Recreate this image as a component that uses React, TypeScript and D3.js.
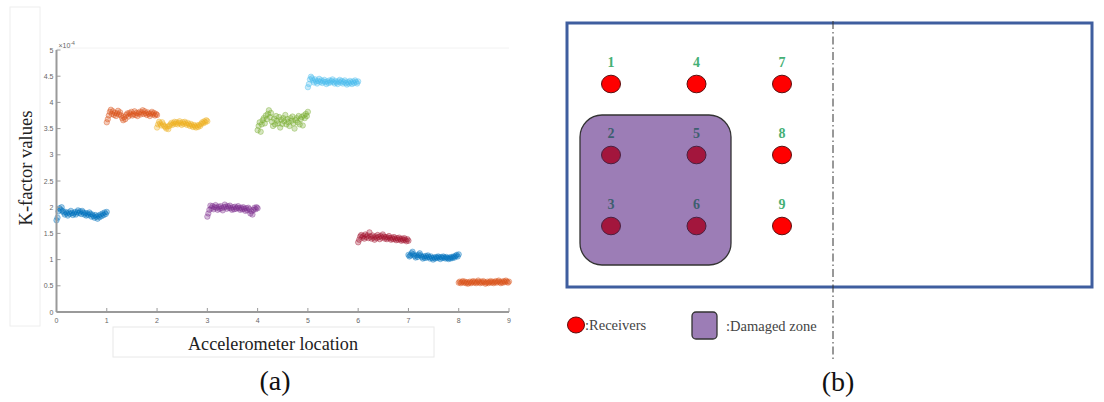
import React from "react";
import * as d3 from "d3";

// K-factor values (×10^-4) per accelerometer location (samples across each unit interval)
const loc1 = [1.75,1.80,1.92,1.98,1.95,2.00,1.93,1.90,1.86,1.91,1.88,1.84,1.90,1.87,1.93,1.89,1.85,1.88,1.91,1.86,1.90,1.94,1.89,1.92,1.87,1.93,1.90,1.86,1.89,1.84,1.88,1.85,1.90,1.87,1.82,1.86,1.83,1.80,1.85,1.82,1.78,1.84,1.81,1.86,1.83,1.88,1.85,1.90,1.87,1.91];
const loc2 = [3.62,3.68,3.75,3.82,3.86,3.78,3.83,3.76,3.80,3.74,3.79,3.84,3.77,3.81,3.75,3.70,3.66,3.72,3.68,3.76,3.79,3.73,3.80,3.77,3.82,3.75,3.78,3.83,3.76,3.80,3.74,3.79,3.82,3.77,3.81,3.85,3.78,3.83,3.79,3.76,3.81,3.78,3.74,3.79,3.82,3.77,3.80,3.75,3.78,3.76];
const loc3 = [3.52,3.58,3.63,3.60,3.56,3.62,3.58,3.55,3.53,3.50,3.54,3.49,3.55,3.58,3.61,3.57,3.60,3.63,3.59,3.62,3.58,3.61,3.64,3.60,3.57,3.62,3.59,3.63,3.60,3.57,3.61,3.58,3.55,3.59,3.56,3.53,3.57,3.54,3.52,3.56,3.53,3.57,3.55,3.59,3.62,3.60,3.64,3.62,3.66,3.64];
const loc4 = [1.82,1.88,1.95,2.03,1.98,2.02,1.96,2.00,2.04,1.99,1.95,2.01,1.97,2.02,1.98,1.94,2.00,2.05,2.01,1.97,2.02,1.99,2.03,1.98,1.95,2.00,1.96,2.01,1.97,1.99,2.02,1.98,1.95,1.99,1.96,2.00,1.97,1.93,1.98,1.94,1.99,1.96,1.88,1.92,1.86,1.95,1.99,1.96,2.00,1.98];
const loc5 = [3.47,3.55,3.62,3.44,3.58,3.66,3.70,3.60,3.75,3.68,3.78,3.85,3.72,3.80,3.63,3.55,3.69,3.58,3.74,3.65,3.60,3.72,3.52,3.67,3.59,3.70,3.64,3.76,3.58,3.68,3.62,3.55,3.70,3.65,3.73,3.60,3.50,3.66,3.70,3.62,3.74,3.58,3.68,3.72,3.56,3.75,3.70,3.78,3.74,3.82];
const loc6 = [4.29,4.35,4.44,4.49,4.46,4.42,4.38,4.44,4.40,4.36,4.41,4.45,4.39,4.42,4.37,4.40,4.43,4.39,4.35,4.40,4.37,4.42,4.38,4.41,4.44,4.39,4.36,4.41,4.38,4.35,4.40,4.43,4.38,4.41,4.36,4.39,4.42,4.37,4.34,4.39,4.36,4.41,4.38,4.35,4.40,4.37,4.42,4.39,4.36,4.40];
const loc7 = [1.33,1.38,1.44,1.47,1.42,1.45,1.40,1.48,1.43,1.46,1.41,1.52,1.44,1.40,1.46,1.42,1.38,1.44,1.41,1.47,1.43,1.39,1.45,1.42,1.48,1.44,1.40,1.43,1.39,1.42,1.45,1.41,1.38,1.42,1.39,1.43,1.40,1.37,1.41,1.38,1.42,1.39,1.36,1.40,1.37,1.41,1.38,1.35,1.39,1.36];
const loc8 = [1.09,1.06,1.08,1.12,1.15,1.10,1.07,1.04,1.08,1.05,1.09,1.12,1.08,1.05,1.02,1.06,1.03,1.07,1.04,1.08,1.05,1.02,1.06,1.03,1.00,1.04,1.02,1.05,1.03,1.06,1.04,1.01,1.05,1.03,1.06,1.04,1.02,1.05,1.03,1.01,1.04,1.02,1.05,1.03,1.06,1.04,1.07,1.09,1.06,1.10];
const loc9 = [0.56,0.58,0.55,0.57,0.59,0.56,0.58,0.55,0.57,0.54,0.56,0.58,0.55,0.57,0.59,0.56,0.58,0.55,0.57,0.60,0.57,0.55,0.58,0.56,0.59,0.57,0.54,0.56,0.58,0.55,0.57,0.59,0.56,0.58,0.55,0.57,0.59,0.56,0.58,0.60,0.57,0.55,0.58,0.56,0.59,0.57,0.60,0.58,0.56,0.58];

const series = [loc1, loc2, loc3, loc4, loc5, loc6, loc7, loc8, loc9];
const seriesColors = ["#0072BD","#D95319","#EDB120","#7E2F8E","#77AC30","#4DBEEE","#A2142F","#0072BD","#D95319"];

const xTicks = [0,1,2,3,4,5,6,7,8,9];
const yTicks = [0,0.5,1,1.5,2,2.5,3,3.5,4,4.5,5];

// Diagram (b): receiver grid
const receivers = [
  { id: "1", col: 0, row: 0, damaged: false },
  { id: "2", col: 0, row: 1, damaged: true },
  { id: "3", col: 0, row: 2, damaged: true },
  { id: "4", col: 1, row: 0, damaged: false },
  { id: "5", col: 1, row: 1, damaged: true },
  { id: "6", col: 1, row: 2, damaged: true },
  { id: "7", col: 2, row: 0, damaged: false },
  { id: "8", col: 2, row: 1, damaged: false },
  { id: "9", col: 2, row: 2, damaged: false },
];

export default function App() {
  const x = d3.scaleLinear().domain([0, 9]).range([56.5, 509]);
  const y = d3.scaleLinear().domain([0, 5]).range([312, 50]);
  const gx = d3.scaleLinear().domain([0, 2]).range([611, 782]);
  const gy = d3.scaleLinear().domain([0, 2]).range([84, 226]);
  const axisColor = "#9a9a9a";
  const tickFont = "Helvetica, Arial, 'Liberation Sans', sans-serif";
  const serif = "'Liberation Serif', 'Times New Roman', serif";

  return (
    <svg width={1104} height={402} style={{ position: "absolute", left: 0, top: 0, background: "#fff" }}>
      {/* faint boxes */}
      <rect x={10} y={7} width={30} height={319} fill="none" stroke="#eeeeee" strokeWidth={1} />
      <line x1={57} x2={509} y1={48} y2={48} stroke="#f2f2f2" />
      <rect x={113} y={327} width={321} height={30} fill="none" stroke="#e8e8e8" strokeWidth={1} />

      {/* points */}
      {series.map((vals, i) =>
        vals.map((v, j) => (
          <circle
            key={`${i}-${j}`}
            cx={x(i + j / (vals.length - 1))}
            cy={y(v)}
            r={2.7}
            fill={seriesColors[i]}
            fillOpacity={0.3}
            stroke={seriesColors[i]}
            strokeOpacity={0.5}
            strokeWidth={0.8}
          />
        ))
      )}

      {/* axes */}
      <line x1={x(0)} x2={x(0)} y1={y(5)} y2={y(0)} stroke={axisColor} strokeWidth={2} />
      <line x1={x(0)} x2={x(9)} y1={y(0)} y2={y(0)} stroke={axisColor} strokeWidth={2} />
      {yTicks.map((t) => (
        <g key={`y${t}`}>
          <line x1={x(0)} x2={x(0) + 4} y1={y(t)} y2={y(t)} stroke={axisColor} strokeWidth={1} />
          <text x={x(0) - 3} y={y(t) + 2.5} textAnchor="end" fontSize={7} fill="#666" fontFamily={tickFont}>{t}</text>
        </g>
      ))}
      {xTicks.map((t) => (
        <g key={`x${t}`}>
          <line x1={x(t)} x2={x(t)} y1={y(0)} y2={y(0) - 4} stroke={axisColor} strokeWidth={1} />
          <text x={x(t)} y={y(0) + 11} textAnchor="middle" fontSize={7} fill="#666" fontFamily={tickFont}>{t}</text>
        </g>
      ))}
      <text x={x(0) + 2} y={y(5) - 2} fontSize={7} fill="#666" fontFamily={tickFont}>
        ×10<tspan dy={-3} fontSize={5}>-4</tspan>
      </text>

      <text transform={`translate(32,168) rotate(-90)`} textAnchor="middle" fontSize={19} fontFamily={serif} fill="#222" textLength={115} lengthAdjust="spacingAndGlyphs">K-factor values</text>
      <text x={273} y={350} textAnchor="middle" fontSize={19} fontFamily={serif} fill="#222" textLength={170} lengthAdjust="spacingAndGlyphs">Accelerometer location</text>
      <text x={275} y={390} textAnchor="middle" fontSize={28} fontFamily={serif} fill="#111">(a)</text>

      {/* diagram b */}
      <rect x={567} y={23} width={525} height={264} fill="none" stroke="#3F5E9F" strokeWidth={3} />
      <line x1={833} x2={833} y1={21} y2={361} stroke="#333" strokeWidth={1} strokeDasharray="8 3 1.5 3" />
      <rect x={580} y={115} width={151} height={150} rx={22} ry={22} fill="#9C7DB6" stroke="#333" strokeWidth={1.3} />
      {receivers.map((r) => (
        <g key={r.id}>
          <ellipse cx={gx(r.col)} cy={gy(r.row)} rx={9.5} ry={8.8} fill={r.damaged ? "#A3163D" : "#FF0000"} stroke={r.damaged ? "#4a2040" : "#5a1010"} strokeWidth={1} />
          <text x={gx(r.col)} y={gy(r.row) - 17} textAnchor="middle" fontSize={14} fontWeight="bold" fontFamily={serif} fill={r.damaged ? "#3E5F6F" : "#45B075"}>{r.id}</text>
        </g>
      ))}

      {/* legend */}
      <ellipse cx={576} cy={325} rx={8.5} ry={8} fill="#FF0000" stroke="#5a1010" strokeWidth={1} />
      <text x={585} y={330} fontSize={14.5} fontFamily={serif} fill="#444">:Receivers</text>
      <rect x={692} y={312} width={25} height={27} rx={4} ry={4} fill="#9C7DB6" stroke="#333" strokeWidth={1.3} />
      <text x={726} y={331} fontSize={14.5} fontFamily={serif} fill="#444">:Damaged zone</text>
      <text x={838} y={391} textAnchor="middle" fontSize={28} fontFamily={serif} fill="#111">(b)</text>
    </svg>
  );
}
